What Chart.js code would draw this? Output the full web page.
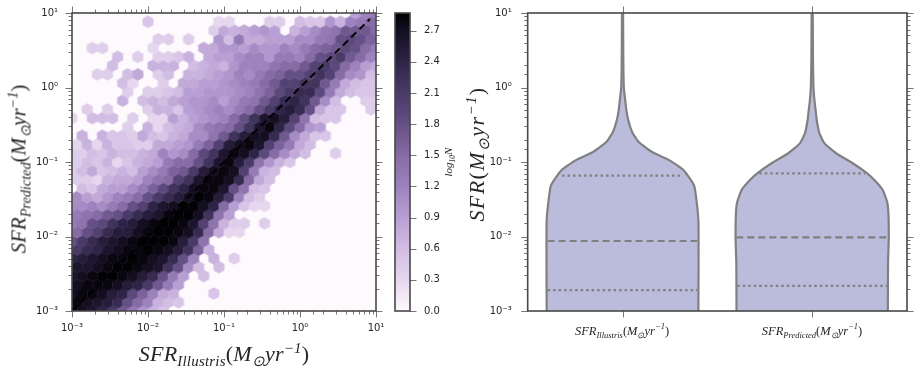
<!DOCTYPE html>
<html>
<head>
<meta charset="utf-8">
<title>SFR predicted vs Illustris</title>
<script src="https://cdn.jsdelivr.net/npm/chart.js@4/dist/chart.umd.min.js"></script>
<style>
  html, body { margin: 0; padding: 0; background: #fff; width: 915px; height: 373px; overflow: hidden; }
  canvas { position: absolute; top: 0; left: 0; }
  #hexWrap, #barWrap, #violinWrap { position: absolute; top: 0; height: 373px; }
  #hexWrap { left: 0; width: 395px; }
  #barWrap { left: 385px; width: 70px; }
  #violinWrap { left: 470px; width: 445px; }
  .math { position: absolute; white-space: nowrap; font-family: "Liberation Serif", serif; font-style: italic; color: #262626; }
  .math sub, .math sup { line-height: 0; font-size: 68%; }
  .math .up { font-style: normal; }
  .big { font-size: 22px; }
  .small { font-size: 12.5px; }
  .rot { transform: translate(-50%, -50%) rotate(-90deg); }
  .mid { transform: translate(-50%, -50%); }
</style>
</head>
<body>
<div id="hexWrap"><canvas id="hexChart" width="395" height="373"></canvas></div>
<div id="barWrap"><canvas id="barChart" width="70" height="373"></canvas></div>
<div id="violinWrap"><canvas id="violinChart" width="445" height="373"></canvas></div>

<div class="math big mid" style="left:224px;top:354px;letter-spacing:0.2px">SFR<sub>Illustris</sub><span class="up">(</span>M<sub>⊙</sub>yr<sup>−1</sup><span class="up">)</span></div>
<div class="math big rot" style="left:19px;top:169px;font-size:21px">SFR<sub>Predicted</sub><span class="up">(</span>M<sub>⊙</sub>yr<sup>−1</sup><span class="up">)</span></div>
<div class="math rot" style="left:448px;top:162px;font-size:11px">log<sub>10</sub>N</div>
<div class="math big rot" style="left:477px;top:154px;letter-spacing:1.4px">SFR<span class="up">(</span>M<sub>⊙</sub>yr<sup>−1</sup><span class="up">)</span></div>
<div class="math small mid" style="left:622px;top:331px">SFR<sub>Illustris</sub><span class="up">(</span>M<sub>⊙</sub>yr<sup>−1</sup><span class="up">)</span></div>
<div class="math small mid" style="left:812px;top:331px">SFR<sub>Predicted</sub><span class="up">(</span>M<sub>⊙</sub>yr<sup>−1</sup><span class="up">)</span></div>

<script>
// tick labels for the log axes, 1e-3 to 1e1
const decadeLabels = ["10⁻³", "10⁻²", "10⁻¹", "10⁰", "10¹"];

// Rows go bottom to top, odd rows sit half a cell to the right. Short rows are empty after the end.
const hexRows = [
  [28,27,26,24,21,17,13,10,7,5],
  [28,27,26,25,23,18,15,12,7,6,5],
  [27,28,28,27,25,24,19,16,12,8,7,0,0,0,5],
  [27,28,28,28,27,25,24,21,17,13,9],
  [26,27,28,29,29,28,27,25,23,18,13,9,0,6],
  [26,26,27,28,29,29,28,27,26,22,18,11,6,0,6],
  [24,25,26,27,28,28,29,28,27,26,23,18,12,0,7,0,4],
  [21,23,24,26,27,28,28,29,28,27,25,22,16,7],
  [18,21,23,25,26,27,28,29,29,29,28,25,21,14],
  [15,18,20,23,25,25,27,28,29,29,28,27,23,15,8,3,3],
  [13,14,18,19,22,24,25,27,28,29,29,28,26,20,14,7,4,4,0,4],
  [13,14,15,17,18,21,23,25,26,28,29,29,27,22,14,9],
  [11,11,12,11,13,15,18,20,24,26,27,29,29,27,24,15,9,5,3,3],
  [11,9,8,10,12,13,15,18,21,23,25,27,29,28,25,21,12,6,4],
  [0,6,5,8,9,9,11,13,16,19,22,24,27,28,28,26,18,14,6,5],
  [4,4,3,7,8,8,9,12,14,15,20,22,26,28,28,27,23,15,8,6],
  [4,6,8,5,6,7,6,9,11,13,16,17,21,25,27,28,27,20,13,7,6],
  [4,6,5,7,3,5,7,8,9,13,15,15,18,22,26,28,25,21,14,10,7,5],
  [4,4,6,5,7,6,6,7,8,12,10,11,15,19,22,26,28,27,24,19,15,11,8,6,0,0,4],
  [3,7,3,7,5,5,4,4,8,8,9,10,13,16,20,25,27,28,26,20,16,13,8,6],
  [0,7,0,7,5,5,4,8,6,5,7,8,11,11,14,17,22,25,27,27,23,17,11,8,5,5],
  [0,0,0,0,0,4,0,7,3,6,7,8,11,13,14,15,18,22,26,28,24,19,15,10,9],
  [3,0,6,6,6,0,4,0,3,3,9,7,9,10,11,12,15,18,22,26,27,25,20,14,6,5,5],
  [0,4,0,4,0,0,0,4,7,7,5,9,10,11,12,11,13,15,18,21,24,25,23,18,8,5,5,0,0,4],
  [0,0,0,0,0,7,0,6,7,6,8,9,10,10,11,9,11,13,14,17,20,23,24,22,17,11,6,0,0,4,4],
  [0,0,0,0,0,4,0,4,4,5,6,9,9,10,10,10,11,12,14,16,19,21,23,23,19,13,8,6,5,5],
  [0,0,0,0,0,6,3,0,0,4,0,8,8,9,9,10,11,12,13,15,17,20,20,22,22,17,13,8,6,5,5],
  [0,0,4,4,0,6,8,0,4,6,0,7,7,8,9,10,12,11,13,15,16,18,18,20,22,20,15,11,10,6],
  [0,0,0,0,6,0,0,0,7,7,7,0,6,7,8,7,10,12,12,12,14,15,15,17,20,21,19,15,12,9,8],
  [0,0,0,0,6,0,4,0,4,4,5,7,0,8,9,9,11,12,12,10,13,13,12,15,18,19,21,17,15,12],
  [0,0,4,4,0,0,0,0,3,0,0,0,0,8,8,10,10,9,11,10,10,12,11,13,15,16,17,19,18,15,13],
  [0,0,0,0,0,0,0,0,4,4,0,4,0,0,10,6,13,8,8,9,9,9,11,11,13,14,18,19,18,16],
  [0,0,0,0,0,0,0,0,0,0,0,0,0,0,4,8,7,8,9,10,9,0,7,9,11,13,14,17,17,17,15],
  [0,0,0,0,0,0,0,5,0,0,0,0,0,0,3,3,0,0,0,4,4,0,6,5,5,10,7,12,13,15],
  [0,0,0,0,0,0,0,0,0,0,0,0,0,0,0,0,0,0,0,0,0,0,0,0,0,0,0,0,9,12,13],
];
const hexColumns = 30;
const hexLogMinX = -3, hexLogMaxX = 1, hexLogMinY = -3, hexLogMaxY = 1;

// one-to-one reference line
const refLineX = [0.001, 8.3];
const refLineY = [0.001, 8.3];

// colour bar
const cbMin = 0, cbMax = 2.87;
const cbValues = [0, 0.3, 0.6, 0.9, 1.2, 1.5, 1.8, 2.1, 2.4, 2.7, 2.87];
const cbColors = ["#fdf9fd", "#e6d6ee", "#d2bde3", "#b89fd3", "#9d83bd", "#866ba4", "#655085", "#493a67", "#2e2447", "#130e20", "#020104"];

// violin outlines: SFR level and half width (in category units)
const illustrisLevels = [0.001, 0.0166, 0.048, 0.078, 0.106, 0.137, 0.187, 0.255, 0.366, 0.5, 0.68, 1.0, 2.3, 10];
const illustrisWidths = [0.400, 0.400, 0.378, 0.321, 0.246, 0.153, 0.084, 0.050, 0.030, 0.020, 0.014, 0.007, 0.0042, 0.003];
const predictedLevels = [0.001, 0.00437, 0.00975, 0.0205, 0.0293, 0.0421, 0.0573, 0.0718, 0.0962, 0.131, 0.178, 0.243, 0.366, 0.5, 0.68, 1.0, 2.3, 10];
const predictedWidths = [0.399, 0.400, 0.404, 0.402, 0.395, 0.372, 0.328, 0.285, 0.214, 0.126, 0.065, 0.038, 0.024, 0.018, 0.012, 0.007, 0.0042, 0.003];

// quartile lines
const illustrisQuartiles = [0.00191, 0.0087, 0.0655];
const illustrisQuartileWidths = [0.395, 0.395, 0.319];
const predictedQuartiles = [0.00217, 0.00975, 0.0705];
const predictedQuartileWidths = [0.395, 0.400, 0.279];
const violinCenters = [0, 1];

const FRAME = "#484848";
const TICK = "#777777";
const LABEL = "#262626";

function hexToRgb(h) {
  return [1, 3, 5].map((p) => parseInt(h.slice(p, p + 2), 16));
}

function colorFor(v) {
  let i = 0;
  while (i < cbValues.length - 2 && v > cbValues[i + 1]) i++;
  const t = Math.min(1, (v - cbValues[i]) / (cbValues[i + 1] - cbValues[i]));
  const a = hexToRgb(cbColors[i]);
  const b = hexToRgb(cbColors[i + 1]);
  return `rgb(${a.map((c, n) => Math.round(c + (b[n] - c) * t)).join(",")})`;
}

// canvas sprites used as point style, one per value
const sprites = {};
function hexSprite(v) {
  if (sprites[v]) return sprites[v];
  const c = document.createElement("canvas");
  c.width = 14;
  c.height = 15;
  const g = c.getContext("2d");
  const rx = 5.5, ry = 6.3;
  g.fillStyle = colorFor(v / 10);
  g.beginPath();
  g.moveTo(7, 7.5 - ry);
  g.lineTo(7 + rx, 7.5 - ry / 2);
  g.lineTo(7 + rx, 7.5 + ry / 2);
  g.lineTo(7, 7.5 + ry);
  g.lineTo(7 - rx, 7.5 + ry / 2);
  g.lineTo(7 - rx, 7.5 - ry / 2);
  g.closePath();
  g.fill();
  sprites[v] = c;
  return c;
}

// hex centres in data space
const stepX = (hexLogMaxX - hexLogMinX) / hexColumns;
const stepY = (hexLogMaxY - hexLogMinY) / (hexRows.length - 1);
let hexPoints = [];
hexRows.forEach((row, k) => {
  row.forEach((v, i) => {
    if (v === 0) return;
    hexPoints.push({
      x: Math.pow(10, hexLogMinX + (i + (k % 2 ? 0.5 : 0)) * stepX),
      y: Math.pow(10, hexLogMinY + k * stepY),
      v: v,
    });
  });
});

// spines and tick marks, majors longer than minors
const framePlugin = {
  id: "frame",
  beforeDatasetsDraw(chart, args, opts) {
    if (!opts.background) return;
    const a = chart.chartArea;
    chart.ctx.fillStyle = opts.background;
    chart.ctx.fillRect(a.left, a.top, a.width, a.height);
  },
  afterDraw(chart, args, opts) {
    const ctx = chart.ctx;
    const a = chart.chartArea;
    ctx.save();
    ctx.strokeStyle = TICK;
    ctx.lineWidth = 1;
    (opts.sides || []).forEach((side) => {
      const scale = side === "left" || side === "right" ? chart.scales.y : chart.scales.x;
      scale.ticks.forEach((t, i) => {
        const p = Math.round(scale.getPixelForTick(i)) + 0.5;
        const len = t.major ? 6.5 : 3.5;
        ctx.beginPath();
        if (side === "left") { ctx.moveTo(a.left, p); ctx.lineTo(a.left - len, p); }
        if (side === "right") { ctx.moveTo(a.right, p); ctx.lineTo(a.right + len, p); }
        if (side === "top") { ctx.moveTo(p, a.top); ctx.lineTo(p, a.top - len); }
        if (side === "bottom") { ctx.moveTo(p, a.bottom); ctx.lineTo(p, a.bottom + len); }
        ctx.stroke();
      });
    });
    ctx.strokeStyle = FRAME;
    ctx.lineWidth = 1.6;
    ctx.strokeRect(a.left, a.top, a.width, a.height);
    ctx.restore();
  },
};

function logTick(value, index, ticks) {
  if (!ticks[index].major) return "";
  return decadeLabels[Math.round(Math.log10(value)) + 3];
}

// keep the plot box exactly where it is in the picture, labels may overhang
function fixAxis(size) {
  return (s) => {
    if (s.isHorizontal()) {
      s.height = size;
      s.paddingLeft = 0;
      s.paddingRight = 0;
    } else {
      s.width = size;
      s.paddingTop = 0;
      s.paddingBottom = 0;
    }
  };
}

function logAxis(position, padding, size) {
  return {
    type: "logarithmic",
    position: position,
    min: 0.001,
    max: 10,
    border: { display: false },
    grid: { display: false, drawTicks: false },
    ticks: {
      autoSkip: false,
      maxRotation: 0,
      padding: padding,
      callback: logTick,
      color: LABEL,
      font: { family: "'DejaVu Sans'", size: 10 },
    },
    afterFit: fixAxis(size),
  };
}

const commonOptions = {
  responsive: false,
  animation: false,
  events: [],
};

new Chart(document.getElementById("hexChart"), {
  type: "scatter",
  plugins: [framePlugin],
  data: {
    datasets: [
      {
        data: refLineX.map((x, i) => ({ x: x, y: refLineY[i] })),
        showLine: true,
        borderColor: "#000000",
        borderWidth: 2,
        borderDash: [7, 4.5],
        pointRadius: 0,
      },
      {
        data: hexPoints,
        showLine: false,
        pointRadius: 5,
        pointStyle: (ctx) => (ctx.raw ? hexSprite(ctx.raw.v) : "circle"),
      },
    ],
  },
  options: {
    ...commonOptions,
    layout: { padding: { top: 13, right: 19 } },
    plugins: {
      legend: { display: false },
      tooltip: { enabled: false },
      frame: { sides: ["left", "right", "top", "bottom"], background: "#fdf9fd" },
    },
    scales: {
      x: logAxis("bottom", 11, 62),
      y: logAxis("left", 14, 72),
    },
  },
});

new Chart(document.getElementById("barChart"), {
  type: "bar",
  plugins: [framePlugin],
  data: {
    labels: ["log10N"],
    datasets: [
      {
        data: [[cbMin, cbMax]],
        barPercentage: 1,
        categoryPercentage: 1,
        borderSkipped: false,
        backgroundColor: (ctx) => {
          const area = ctx.chart.chartArea;
          if (!area) return cbColors[0];
          const y = ctx.chart.scales.y;
          const grad = ctx.chart.ctx.createLinearGradient(0, y.getPixelForValue(cbMin), 0, y.getPixelForValue(cbMax));
          cbValues.forEach((v, i) => grad.addColorStop((v - cbMin) / (cbMax - cbMin), cbColors[i]));
          return grad;
        },
      },
    ],
  },
  options: {
    ...commonOptions,
    layout: { padding: { top: 13, left: 10, bottom: 62 } },
    plugins: {
      legend: { display: false },
      tooltip: { enabled: false },
      frame: { sides: ["right"] },
    },
    scales: {
      x: { display: false },
      y: {
        position: "right",
        min: cbMin,
        max: cbMax,
        border: { display: false },
        grid: { display: false, drawTicks: false },
        afterBuildTicks: (s) => {
          s.ticks = cbValues.slice(0, 10).map((v) => ({ value: v, major: true }));
        },
        afterFit: fixAxis(45),
        ticks: {
          autoSkip: false,
          padding: 14,
          callback: (v) => v.toFixed(1),
          color: LABEL,
          font: { family: "'DejaVu Sans'", size: 10 },
        },
      },
    },
  },
});

function violinSide(center, levels, widths, sign) {
  return {
    data: levels.map((y, i) => ({ x: center + sign * widths[i], y: y })),
    borderColor: "#808080",
    borderWidth: 2.2,
    backgroundColor: "#bbbbdb",
    fill: { value: center + sign * -0.004 },
    pointRadius: 0,
    tension: 0.15,
  };
}

function quartileLine(center, level, width, dash) {
  return {
    data: [{ x: center - width, y: level }, { x: center + width, y: level }],
    borderColor: "#808080",
    borderWidth: 2.2,
    borderDash: dash,
    fill: false,
    pointRadius: 0,
  };
}

const dotted = [2.5, 3];
const dashed = [7, 4];

new Chart(document.getElementById("violinChart"), {
  type: "line",
  plugins: [framePlugin],
  data: {
    datasets: [
      quartileLine(violinCenters[0], illustrisQuartiles[0], illustrisQuartileWidths[0], dotted),
      quartileLine(violinCenters[0], illustrisQuartiles[1], illustrisQuartileWidths[1], dashed),
      quartileLine(violinCenters[0], illustrisQuartiles[2], illustrisQuartileWidths[2], dotted),
      quartileLine(violinCenters[1], predictedQuartiles[0], predictedQuartileWidths[0], dotted),
      quartileLine(violinCenters[1], predictedQuartiles[1], predictedQuartileWidths[1], dashed),
      quartileLine(violinCenters[1], predictedQuartiles[2], predictedQuartileWidths[2], dotted),
      violinSide(violinCenters[0], illustrisLevels, illustrisWidths, -1),
      violinSide(violinCenters[0], illustrisLevels, illustrisWidths, 1),
      violinSide(violinCenters[1], predictedLevels, predictedWidths, -1),
      violinSide(violinCenters[1], predictedLevels, predictedWidths, 1),
    ],
  },
  options: {
    ...commonOptions,
    indexAxis: "y",
    layout: { padding: { top: 13, right: 8 } },
    plugins: {
      legend: { display: false },
      tooltip: { enabled: false },
      filler: { drawTime: "beforeDatasetsDraw" },
      frame: { sides: ["left", "right", "top", "bottom"] },
    },
    scales: {
      x: {
        type: "linear",
        min: -0.5,
        max: 1.5,
        border: { display: false },
        grid: { display: false, drawTicks: false },
        afterBuildTicks: (s) => {
          s.ticks = violinCenters.map((v) => ({ value: v, major: true }));
        },
        afterFit: fixAxis(62),
        ticks: { callback: () => "", autoSkip: false },
      },
      y: logAxis("left", 16, 57.7),
    },
  },
});
</script>
</body>
</html>
